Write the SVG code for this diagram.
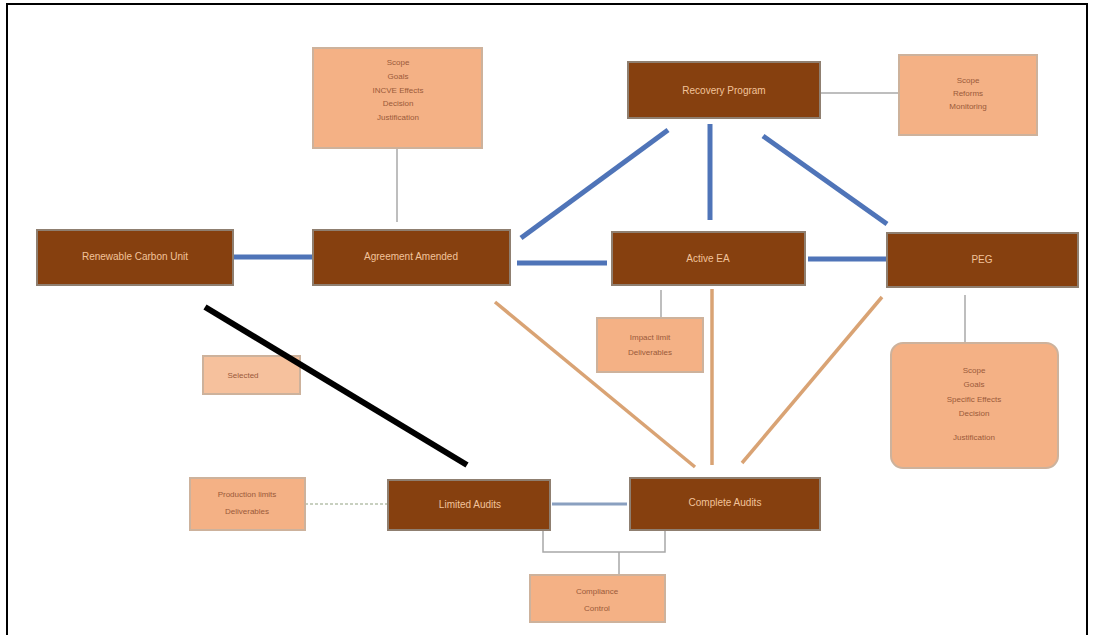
<svg xmlns="http://www.w3.org/2000/svg" width="1094" height="635" viewBox="0 0 1094 635">
<style>
.dark{fill:#86400f;stroke:#8f7f70;stroke-width:2}
.peach{fill:#f4b185;stroke:#cdb29c;stroke-width:2}
.dt{font-family:"Liberation Sans",Arial,sans-serif;font-size:10px;fill:#f2c39a;text-anchor:middle}
.pt{font-family:"Liberation Sans",Arial,sans-serif;font-size:8px;fill:#9a5a3a;text-anchor:middle}
.blue{stroke:#4f74b8;stroke-width:5;fill:none}
.orange{stroke:#d9a374;stroke-width:3.5;fill:none}
.gray{stroke:#a8a8a8;stroke-width:1.5;fill:none}
</style>
<rect x="0" y="0" width="1094" height="635" fill="#ffffff"/>
<path d="M7,636 V4 H1087 V636" fill="none" stroke="#000" stroke-width="2"/>
<g id="selected"><rect class="peach" x="203" y="356" width="97" height="38" fill-opacity="0.8"/><text class="pt" x="243" y="378">Selected</text></g>
<g id="connectors">
<line class="gray" x1="397" y1="148" x2="397" y2="222"/>
<line class="gray" x1="899" y1="93" x2="820" y2="93"/>
<line class="blue" x1="233" y1="257" x2="313" y2="257"/>
<line class="blue" x1="517" y1="263" x2="607" y2="263"/>
<line class="blue" x1="808" y1="259" x2="887" y2="259"/>
<line class="blue" x1="521" y1="238" x2="668" y2="130"/>
<line class="blue" x1="710" y1="220" x2="710" y2="124"/>
<line class="blue" x1="887" y1="224" x2="763" y2="136"/>
<line class="orange" x1="695" y1="467" x2="495" y2="302"/>
<line class="orange" x1="712" y1="465" x2="712" y2="289"/>
<line class="orange" x1="742" y1="463" x2="882" y2="297"/>
<line x1="467" y1="465" x2="205" y2="307" stroke="#000" stroke-width="6"/>
<line class="gray" x1="661" y1="290" x2="661" y2="318"/>
<line class="gray" x1="965" y1="295" x2="965" y2="343"/>
<line x1="552" y1="504" x2="627" y2="504" stroke="#8aa0c0" stroke-width="3"/>
<line x1="305" y1="504" x2="388" y2="504" stroke="#c8d0c0" stroke-width="2" stroke-dasharray="3,2"/>
<path class="gray" d="M543,531 V552 H665 V531 M619,552 V575"/>
</g>
<g id="recovery"><rect class="dark" x="628" y="62" width="192" height="56"/><text class="dt" x="724" y="94">Recovery Program</text></g>
<g id="scope-top-right"><rect class="peach" x="899" y="55" width="138" height="80"/>
<text class="pt" x="968" y="83">Scope</text><text class="pt" x="968" y="96">Reforms</text><text class="pt" x="968" y="109">Monitoring</text></g>
<g id="scope-top-mid"><rect class="peach" x="313" y="48" width="169" height="100"/>
<text class="pt" x="398" y="65">Scope</text><text class="pt" x="398" y="79">Goals</text><text class="pt" x="398" y="93">INCVE Effects</text><text class="pt" x="398" y="106">Decision</text><text class="pt" x="398" y="120">Justification</text></g>
<g id="renewable"><rect class="dark" x="37" y="230" width="196" height="55"/><text class="dt" x="135" y="260">Renewable Carbon Unit</text></g>
<g id="agreement"><rect class="dark" x="313" y="230" width="197" height="55"/><text class="dt" x="411" y="260">Agreement Amended</text></g>
<g id="active"><rect class="dark" x="612" y="232" width="193" height="53"/><text class="dt" x="708" y="262">Active EA</text></g>
<g id="peg"><rect class="dark" x="887" y="233" width="191" height="54"/><text class="dt" x="982" y="263">PEG</text></g>
<g id="impact"><rect class="peach" x="597" y="318" width="106" height="54"/><text class="pt" x="650" y="340">Impact limit</text><text class="pt" x="650" y="355">Deliverables</text></g>
<g id="scope-right"><rect class="peach" x="891" y="343" width="167" height="125" rx="12"/>
<text class="pt" x="974" y="373">Scope</text><text class="pt" x="974" y="387">Goals</text><text class="pt" x="974" y="402">Specific Effects</text><text class="pt" x="974" y="416">Decision</text><text class="pt" x="974" y="440">Justification</text></g>
<g id="production"><rect class="peach" x="190" y="478" width="115" height="52"/><text class="pt" x="247" y="497">Production limits</text><text class="pt" x="247" y="514">Deliverables</text></g>
<g id="limited"><rect class="dark" x="388" y="480" width="162" height="50"/><text class="dt" x="470" y="508">Limited Audits</text></g>
<g id="complete"><rect class="dark" x="630" y="478" width="190" height="52"/><text class="dt" x="725" y="506">Complete Audits</text></g>
<g id="compliance"><rect class="peach" x="530" y="575" width="135" height="47"/><text class="pt" x="597" y="594">Compliance</text><text class="pt" x="597" y="611">Control</text></g>
</svg>
